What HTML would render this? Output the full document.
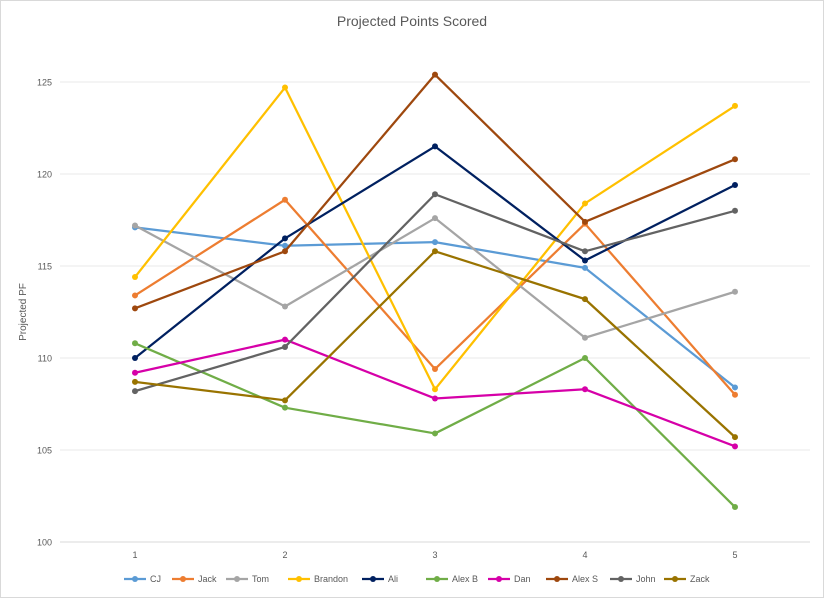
<!DOCTYPE html>
<html><head><meta charset="utf-8"><style>
body{margin:0;background:#fff;font-family:"Liberation Sans",sans-serif}
svg text{font-family:"Liberation Sans",sans-serif}
</style></head><body>
<svg id="c" width="824" height="598" xmlns="http://www.w3.org/2000/svg">
<rect x="0.5" y="0.5" width="823" height="597" fill="#fff" stroke="#d9d9d9"/>
<text x="412" y="26" text-anchor="middle" font-size="14" fill="#595959">Projected Points Scored</text>
<text transform="translate(26,312) rotate(-90)" text-anchor="middle" font-size="10" fill="#595959">Projected PF</text>
<g id="grid"></g><g id="series"></g><g id="legend"></g>
</svg>
<script>
const categories=[1,2,3,4,5];
const yTicks=[100,105,110,115,120,125];
const seriesNames=["CJ","Jack","Tom","Brandon","Ali","Alex B","Dan","Alex S","John","Zack"];
const seriesColors=["#5b9bd5","#ed7d31","#a5a5a5","#ffc000","#002060","#70ad47","#d600a8","#9e480e","#636363","#997300"];
const cj=[117.1,116.1,116.3,114.9,108.4];
const jack=[113.4,118.6,109.4,117.3,108.0];
const tom=[117.2,112.8,117.6,111.1,113.6];
const brandon=[114.4,124.7,108.3,118.4,123.7];
const ali=[110.0,116.5,121.5,115.3,119.4];
const alexB=[110.8,107.3,105.9,110.0,101.9];
const dan=[109.2,111.0,107.8,108.3,105.2];
const alexS=[112.7,115.8,125.4,117.4,120.8];
const john=[108.2,110.6,118.9,115.8,118.0];
const zack=[108.7,107.7,115.8,113.2,105.7];
const seriesValues=[cj,jack,tom,brandon,ali,alexB,dan,alexS,john,zack];
const NS="http://www.w3.org/2000/svg";
const X=i=>135+150*i;
const Y=v=>542-(v-100)*18.4;
function mk(t,a,p){const e=document.createElementNS(NS,t);for(const k in a)e.setAttribute(k,a[k]);p.appendChild(e);return e;}
const grid=document.getElementById('grid');
yTicks.forEach(t=>{
  const l=mk('line',{x1:60,x2:810,y1:Y(t),y2:Y(t),stroke:t===100?'#d9d9d9':'#e8e8e8','stroke-width':1},grid);
  
  
  const tx=mk('text',{x:52,y:Y(t)+3.5,'text-anchor':'end','font-size':9,fill:'#595959'},grid);
  tx.textContent=t;
  
  
});
categories.forEach((c,i)=>{
  const tx=mk('text',{x:X(i),y:558,'text-anchor':'middle','font-size':9,fill:'#595959'},grid);
  tx.textContent=c;
  
  
});
const sg=document.getElementById('series');
seriesValues.forEach((vals,s)=>{
  const g=mk('g',{},sg);
  
  
  mk('polyline',{points:vals.map((v,i)=>X(i)+','+Y(v)).join(' '),fill:'none',stroke:seriesColors[s],'stroke-width':2.25,'stroke-linejoin':'round'},g);
  vals.forEach((v,i)=>{
    const p=mk('circle',{cx:X(i),cy:Y(v),r:3,fill:seriesColors[s]},g);
    
    
  });
});
const lg=document.getElementById('legend');
const legendX=[124,172,226,288,362,426,488,546,610,664];
seriesNames.forEach((n,s)=>{
  const g=mk('g',{},lg);
  
  
  const x=legendX[s];
  mk('line',{x1:x,x2:x+22,y1:579,y2:579,stroke:seriesColors[s],'stroke-width':2.25},g);
  mk('circle',{cx:x+11,cy:579,r:3,fill:seriesColors[s]},g);
  const t=mk('text',{x:x+26,y:582,'font-size':9,fill:'#595959'},g);
  t.textContent=n;
});
</script>
</body></html>
